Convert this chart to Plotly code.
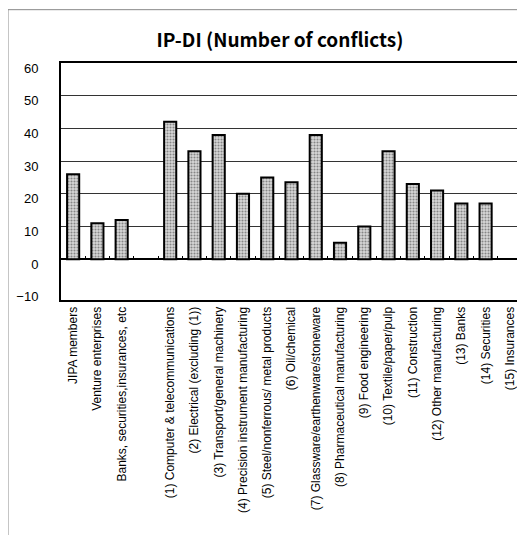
import plotly.graph_objects as go

categories = [
    "JIPA members",
    "Venture enterprises",
    "Banks, securities,insurances, etc",
    " ",
    "(1) Computer & telecommunications",
    "(2) Electrical (excluding (1))",
    "(3) Transport/general machinery",
    "(4) Precision instrument manufacturing",
    "(5) Steel/nonferrous/ metal products",
    "(6) Oil/chemical",
    "(7) Glassware/earthenware/stoneware",
    "(8) Pharmaceutical manufacturing",
    "(9) Food engineering",
    "(10) Textile/paper/pulp",
    "(11) Construction",
    "(12) Other manufacturing",
    "(13) Banks",
    "(14) Securities",
    "(15) Insurances",
]
values = [26, 11, 12, None, 42, 33, 38, 20, 25, 23.5, 38, 5, 10, 33, 23, 21, 17, 17, None]
y_ticks = [-10, 0, 10, 20, 30, 40, 50, 60]
grid_vals = [10, 20, 30, 40, 50]

n = len(categories)
y_lo, y_hi = -12.5, 60
fig = go.Figure()
fig.add_trace(go.Scatter(x=[None], y=[None], yaxis="y2", showlegend=False, hoverinfo="skip"))
fig.add_trace(go.Bar(
    x=categories, y=values, width=0.5,
    marker=dict(color="#b0b0b0", line=dict(color="black", width=2),
                pattern=dict(shape=".", fgcolor="#333333", bgcolor="#d8d8d8", size=3, solidity=0.4)),
    showlegend=False,
))
fig.add_trace(go.Scatter(x=categories, y=[None]*n, xaxis="x2", showlegend=False, hoverinfo="skip"))

fig.update_layout(
    width=517, height=527,
    margin=dict(l=53, r=3, t=55, b=235, autoexpand=False),
    paper_bgcolor="white", plot_bgcolor="white",
    title=dict(text="<b>IP-DI (Number of conflicts)</b>", x=0.526, xanchor="center", y=0.939, yanchor="middle",
               font=dict(family="Noto Sans CJK JP, Liberation Sans, sans-serif", size=19, color="black")),
    font=dict(family="Liberation Sans, Arial, sans-serif", color="black"),
    xaxis=dict(type="category", categoryorder="array", categoryarray=categories, range=[-0.5, n - 0.5],
               tickangle=-90, tickfont=dict(size=12), showgrid=False, automargin=False,
               showline=True, linecolor="black", linewidth=2, mirror=True, ticks=""),
    xaxis2=dict(type="category", categoryorder="array", categoryarray=categories, overlaying="x",
                range=[-0.5, n - 0.5], anchor="free", position=-y_lo / (y_hi - y_lo),
                showticklabels=False, showgrid=False,
                showline=False, ticks="inside", ticklen=3, tickcolor="black", tickson="boundaries"),
    yaxis=dict(range=[y_lo, y_hi], tickvals=y_ticks, tickfont=dict(size=13), showgrid=False, automargin=False,
               zeroline=True, zerolinecolor="black", zerolinewidth=1.5,
               showline=True, linecolor="black", linewidth=2, mirror=True, ticks="",
               ticklabelstandoff=18, ticklabelshift=5),
    yaxis2=dict(range=[y_lo, y_hi], tickvals=grid_vals, overlaying="y", showticklabels=False,
                showgrid=True, gridcolor="#333333", gridwidth=1, zeroline=False, showline=False, ticks=""),
    shapes=[dict(type="rect", xref="paper", yref="paper", x0=-0.115, x1=1.2, y0=-1.2, y1=1.225,
                 line=dict(color="#888888", width=1), fillcolor="rgba(0,0,0,0)", layer="below")],
)

fig.write_html("out.html")
